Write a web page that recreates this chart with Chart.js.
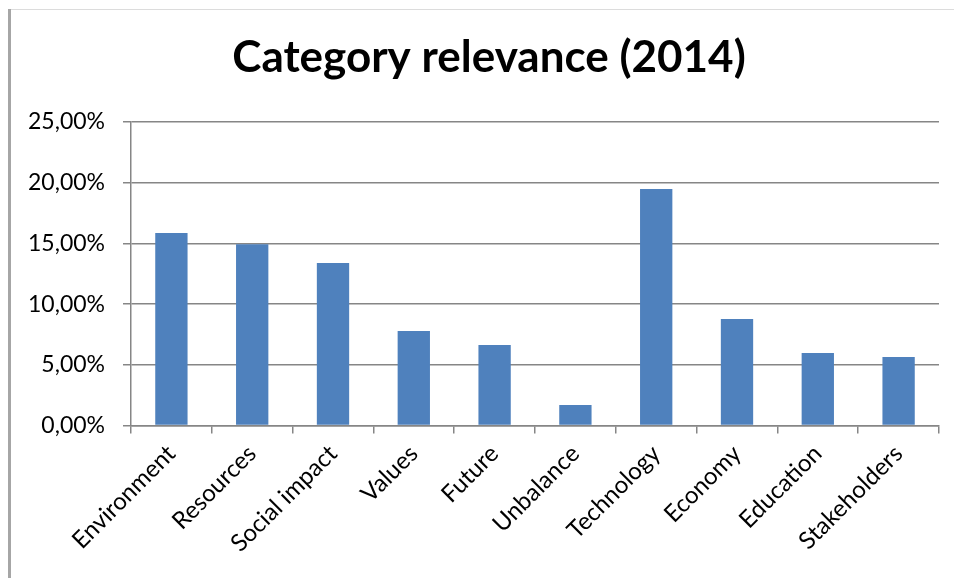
<!DOCTYPE html>
<html>
<head>
<meta charset="utf-8">
<script src="https://cdn.jsdelivr.net/npm/chart.js@4"></script>
<style>
  html, body { margin: 0; padding: 0; background: #fff; }
  #wrap { position: relative; width: 954px; height: 578px; }
  #frameLeft { position: absolute; left: 8px; top: 9px; width: 3px; height: 569px; background: #a6a6a6; }
  #frameTop { position: absolute; left: 11px; top: 9px; right: 0; height: 1px; background: #dcdcdc; }
  canvas { position: absolute; left: 0; top: 0; }
</style>
</head>
<body>
<div id="wrap">
  <canvas id="grafica" width="954" height="578"></canvas>
  <div id="frameLeft"></div>
  <div id="frameTop"></div>
</div>
<script>
// datos
const categorias = ['Environment', 'Resources', 'Social impact', 'Values', 'Future',
                    'Unbalance', 'Technology', 'Economy', 'Education', 'Stakeholders'];
const relevancia = [15.86, 14.93, 13.38, 7.78, 6.63, 1.69, 19.48, 8.77, 5.97, 5.64];
const ticksY = [0, 5, 10, 15, 20, 25];

const gris = '#868686';

// mueve el titulo un poco a la derecha (centrado sobre el marco original)
const moverTitulo = {
    id: 'moverTitulo',
    afterLayout(chart) {
        if (chart.titleBlock) chart.titleBlock.left = 39;
    }
};

document.addEventListener("DOMContentLoaded", () => {
    const ctx = document.getElementById('grafica').getContext('2d');

    new Chart(ctx, {
        type: 'bar',
        data: {
            labels: categorias,
            datasets: [{
                label: 'Category relevance',
                data: relevancia,
                backgroundColor: '#4f81bd',
                borderWidth: 0,
                categoryPercentage: 1,
                barPercentage: 0.4
            }]
        },
        plugins: [moverTitulo],
        options: {
            responsive: false,
            animation: false,
            layout: { padding: { left: 0, right: 15, top: 0, bottom: 0 } },
            plugins: {
                legend: { display: false },
                tooltip: { enabled: false },
                title: {
                    display: true,
                    text: 'Category relevance (2014)',
                    color: '#000',
                    font: { family: 'Lato', size: 44, weight: 'bold', lineHeight: 1.2 },
                    padding: { top: 31, bottom: 38.2 }
                }
            },
            scales: {
                x: {
                    grid: { drawOnChartArea: false, drawTicks: true, tickLength: 8, color: gris, lineWidth: 1.5, offset: true },
                    border: { color: gris, width: 1.5 },
                    ticks: {
                        color: '#000',
                        font: { family: 'Lato', size: 24 },
                        minRotation: 45,
                        maxRotation: 45,
                        padding: 6
                    },
                    afterFit: (s) => { s.height = 578 - 425.5; }
                },
                y: {
                    min: 0,
                    max: 25,
                    afterBuildTicks: (s) => { s.ticks = ticksY.map(v => ({ value: v })); },
                    grid: { color: gris, lineWidth: 1.5, tickLength: 8 },
                    border: { color: gris, width: 1.5 },
                    ticks: {
                        color: '#000',
                        font: { family: 'Lato', size: 23 },
                        padding: 18,
                        callback: (v) => v.toFixed(2).replace('.', ',') + '%'
                    },
                    afterFit: (s) => { s.width = 131; }
                }
            }
        }
    });
});
</script>
</body>
</html>
